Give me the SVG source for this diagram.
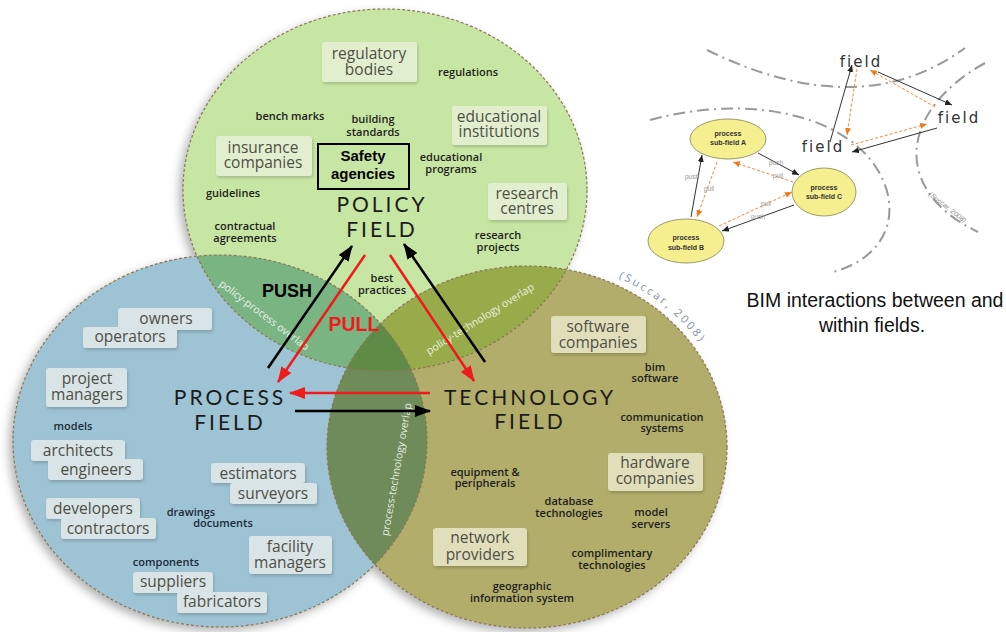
<svg xmlns="http://www.w3.org/2000/svg" width="1006" height="632" viewBox="0 0 1006 632">
<defs>
<style>
.lbl{font-family:"Open Sans","Noto Sans",sans-serif;font-weight:600;font-size:11px;fill:#1e1e1e;text-anchor:middle}
.blbl{font-family:"Open Sans","Noto Sans",sans-serif;font-size:15.5px;fill:#4e4f45;text-anchor:middle}
.ttl{font-family:Lato,"Open Sans",sans-serif;font-size:21px;letter-spacing:3px;fill:#1b1b1b;text-anchor:middle}
.ovl{font-family:"Open Sans","Noto Sans",sans-serif;font-size:10.5px;fill:#ffffff;fill-opacity:0.85;text-anchor:middle}
.bxP{fill:#e2efcf}
.bxR{fill:#d8e4e5}
.bxT{fill:#e1dfbb}
.edge{fill:none;stroke:#8a7755;stroke-width:1.2;stroke-dasharray:3 2}
.arrR{stroke:#ee1c1c;stroke-width:2.5;fill:none}
.arrK{stroke:#000;stroke-width:2.5;fill:none}
.sk{stroke:#333;stroke-width:1;fill:none}
.so{stroke:#f08a3c;stroke-width:1;stroke-dasharray:3 2;fill:none}
.arc{fill:none;stroke:#999;stroke-width:2;stroke-dasharray:12 5 2 5}
.fld{font-family:"DejaVu Sans",sans-serif;font-size:15px;letter-spacing:2px;fill:#333;text-anchor:middle}
.sf{font-family:"Liberation Sans",Arial,sans-serif;font-weight:bold;font-size:7px;fill:#333;text-anchor:middle}
.pp{font-family:"Liberation Sans",Arial,sans-serif;font-size:6.5px;fill:#999;text-anchor:middle}
</style>
<filter id="sh" x="-20%" y="-20%" width="140%" height="140%"><feDropShadow dx="-4" dy="4" stdDeviation="5" flood-color="#000" flood-opacity="0.3"/></filter>
<filter id="bsh" x="-20%" y="-30%" width="140%" height="160%"><feDropShadow dx="1" dy="2" stdDeviation="1.5" flood-color="#000" flood-opacity="0.18"/></filter>
<clipPath id="cPol"><ellipse cx="385" cy="190" rx="202" ry="181"/></clipPath>
<clipPath id="cPro"><ellipse cx="220" cy="441" rx="207" ry="186"/></clipPath>
<marker id="mR" viewBox="0 0 16 12" markerWidth="16" markerHeight="12" refX="15" refY="6" orient="auto" markerUnits="userSpaceOnUse"><path d="M0,0 L16,6 L0,12 z" fill="#ee1c1c"/></marker>
<marker id="mK" viewBox="0 0 16 12" markerWidth="16" markerHeight="12" refX="15" refY="6" orient="auto" markerUnits="userSpaceOnUse"><path d="M0,0 L16,6 L0,12 z" fill="#000"/></marker>
<marker id="sK" viewBox="0 0 7 6" markerWidth="7" markerHeight="6" refX="7" refY="3" orient="auto" markerUnits="userSpaceOnUse"><path d="M0,0 L7,3 L0,6 z" fill="#222"/></marker>
<marker id="sO" viewBox="0 0 7 6" markerWidth="7" markerHeight="6" refX="7" refY="3" orient="auto" markerUnits="userSpaceOnUse"><path d="M0,0 L7,3 L0,6 z" fill="#f07a20"/></marker>
<path id="succ" d="M598,270 A207 188 0 0 1 722,383"/>
</defs>
<rect width="1006" height="632" fill="#ffffff"/>

<g id="venn">
<g filter="url(#sh)">
<ellipse cx="220" cy="441" rx="207" ry="186" fill="#9dc3d4"/>
<ellipse cx="527" cy="447" rx="200" ry="181" fill="#b2ad6a"/>
<ellipse cx="385" cy="190" rx="202" ry="181" fill="#c8e6a3"/>
</g>
<ellipse cx="220" cy="441" rx="207" ry="186" fill="#7ab482" clip-path="url(#cPol)"/>
<ellipse cx="527" cy="447" rx="200" ry="181" fill="#98ab4b" clip-path="url(#cPol)"/>
<ellipse cx="527" cy="447" rx="200" ry="181" fill="#6e8b59" clip-path="url(#cPro)"/>
<g clip-path="url(#cPol)"><ellipse cx="527" cy="447" rx="200" ry="181" fill="#5f8b46" clip-path="url(#cPro)"/></g>
<ellipse class="edge" cx="220" cy="441" rx="207" ry="186"/>
<ellipse class="edge" cx="527" cy="447" rx="200" ry="181"/>
<ellipse class="edge" cx="385" cy="190" rx="202" ry="181"/>
<text class="ovl" transform="translate(262,318) rotate(37)">policy-process overlap</text>
<text class="ovl" transform="translate(482,322) rotate(-32)">policy-technology overlap</text>
<text class="ovl" transform="translate(400,470) rotate(-80)">process-technology overlap</text>
<text font-family="'Open Sans','Noto Sans',sans-serif" font-size="11" letter-spacing="2.5" fill="#7d90a6"><textPath href="#succ" startOffset="22">(Succar, 2008)</textPath></text>
</g>

<g id="policy-field">
<g filter="url(#bsh)">
<rect class="bxP" x="322" y="42" width="95" height="40" rx="3"/>
<rect class="bxP" x="452" y="106" width="95" height="39" rx="3"/>
<rect class="bxP" x="216" y="136" width="96" height="40" rx="3"/>
<rect class="bxP" x="488" y="183" width="79" height="37" rx="3"/>
</g>
<text class="blbl" x="369" y="59">regulatory<tspan x="369" dy="16">bodies</tspan></text>
<text class="blbl" x="499" y="122">educational<tspan x="499" dy="15">institutions</tspan></text>
<text class="blbl" x="263" y="153">insurance<tspan x="263" dy="15">companies</tspan></text>
<text class="blbl" x="527" y="199">research<tspan x="527" dy="15">centres</tspan></text>
<text class="lbl" x="468" y="76">regulations</text>
<text class="lbl" x="290" y="120">bench marks</text>
<text class="lbl" x="373" y="123">building<tspan x="373" dy="13">standards</tspan></text>
<text class="lbl" x="451" y="161">educational<tspan x="451" dy="12">programs</tspan></text>
<text class="lbl" x="233" y="197">guidelines</text>
<text class="lbl" x="245" y="230">contractual<tspan x="245" dy="12">agreements</tspan></text>
<text class="lbl" x="498" y="239">research<tspan x="498" dy="12">projects</tspan></text>
<text class="lbl" x="382" y="282">best<tspan x="382" dy="12">practices</tspan></text>
<text class="ttl" x="382" y="212">POLICY<tspan x="382" dy="25">FIELD</tspan></text>
</g>

<g id="safety-agencies">
<rect x="318" y="144" width="91" height="45" fill="none" stroke="#000" stroke-width="2"/>
<text x="363" y="161" font-family="'Liberation Sans',Arial,sans-serif" font-weight="bold" font-size="15" text-anchor="middle" fill="#000">Safety<tspan x="363" dy="18">agencies</tspan></text>
</g>

<g id="process-field">
<g filter="url(#bsh)">
<rect class="bxR" x="118" y="308" width="94" height="22" rx="3"/>
<rect class="bxR" x="83" y="327" width="94" height="21" rx="3"/>
<rect class="bxR" x="46" y="368" width="81" height="39" rx="3"/>
<rect class="bxR" x="31" y="440" width="94" height="21" rx="3"/>
<rect class="bxR" x="48" y="459" width="95" height="21" rx="3"/>
<rect class="bxR" x="211" y="463" width="94" height="20" rx="3"/>
<rect class="bxR" x="230" y="483" width="87" height="21" rx="3"/>
<rect class="bxR" x="46" y="498" width="94" height="21" rx="3"/>
<rect class="bxR" x="61" y="518" width="95" height="21" rx="3"/>
<rect class="bxR" x="249" y="536" width="83" height="38" rx="3"/>
<rect class="bxR" x="133" y="572" width="80" height="21" rx="3"/>
<rect class="bxR" x="177" y="592" width="90" height="21" rx="3"/>
</g>
<text class="blbl" x="166" y="324">owners</text>
<text class="blbl" x="130" y="342">operators</text>
<text class="blbl" x="87" y="384">project<tspan x="87" dy="16">managers</tspan></text>
<text class="blbl" x="78" y="456">architects</text>
<text class="blbl" x="96" y="475">engineers</text>
<text class="blbl" x="258" y="479">estimators</text>
<text class="blbl" x="273" y="499">surveyors</text>
<text class="blbl" x="93" y="514">developers</text>
<text class="blbl" x="108" y="534">contractors</text>
<text class="blbl" x="290" y="552">facility<tspan x="290" dy="16">managers</tspan></text>
<text class="blbl" x="173" y="587">suppliers</text>
<text class="blbl" x="222" y="607">fabricators</text>
<text class="lbl" x="73" y="430" style="fill:#1c2a3a">models</text>
<text class="lbl" x="191" y="516" style="fill:#1c2a3a">drawings<tspan x="223" dy="11">documents</tspan></text>
<text class="lbl" x="166" y="566" style="fill:#1c2a3a">components</text>
<text class="ttl" x="230" y="405">PROCESS<tspan x="230" dy="25">FIELD</tspan></text>
</g>

<g id="technology-field">
<g filter="url(#bsh)">
<rect class="bxT" x="551" y="316" width="95" height="37" rx="3"/>
<rect class="bxT" x="608" y="453" width="95" height="38" rx="3"/>
<rect class="bxT" x="433" y="528" width="94" height="38" rx="3"/>
</g>
<text class="blbl" x="598" y="332">software<tspan x="598" dy="16">companies</tspan></text>
<text class="blbl" x="655" y="468">hardware<tspan x="655" dy="16">companies</tspan></text>
<text class="blbl" x="480" y="543">network<tspan x="480" dy="17">providers</tspan></text>
<text class="lbl" x="655" y="371">bim<tspan x="655" dy="11">software</tspan></text>
<text class="lbl" x="662" y="421">communication<tspan x="662" dy="11">systems</tspan></text>
<text class="lbl" x="485" y="476">equipment &amp;<tspan x="485" dy="11">peripherals</tspan></text>
<text class="lbl" x="569" y="505">database<tspan x="569" dy="12">technologies</tspan></text>
<text class="lbl" x="651" y="516">model<tspan x="651" dy="12">servers</tspan></text>
<text class="lbl" x="612" y="557">complimentary<tspan x="612" dy="12">technologies</tspan></text>
<text class="lbl" x="522" y="590">geographic<tspan x="522" dy="12">information system</tspan></text>
<text class="ttl" x="530" y="405">TECHNOLOGY<tspan x="530" dy="24">FIELD</tspan></text>
</g>

<g id="connectors">
<line class="arrK" x1="268" y1="368" x2="352" y2="246" marker-end="url(#mK)"/>
<line class="arrR" x1="365" y1="255" x2="278" y2="382" marker-end="url(#mR)"/>
<line class="arrR" x1="390" y1="255" x2="474" y2="381" marker-end="url(#mR)"/>
<line class="arrK" x1="485" y1="362" x2="404" y2="244" marker-end="url(#mK)"/>
<line class="arrR" x1="430" y1="393" x2="290" y2="393" marker-end="url(#mR)"/>
<line class="arrK" x1="295" y1="411" x2="430" y2="411" marker-end="url(#mK)"/>
</g>
<text x="287" y="297" font-family="'Liberation Sans',Arial,sans-serif" font-weight="bold" font-size="18" text-anchor="middle" fill="#000">PUSH</text>
<text x="354" y="331" font-family="'Liberation Sans',Arial,sans-serif" font-weight="bold" font-size="19.5" text-anchor="middle" fill="#ee1c1c">PULL</text>

<g id="bim-interactions">
<path class="arc" d="M707,50 Q860,125 965,48"/>
<path class="arc" d="M650,120 C760,90 870,120 888,195 C896,235 870,262 833,272"/>
<path class="arc" d="M985,63 C900,110 890,190 978,232"/>
<text transform="translate(946,209) rotate(38)" font-family="'Liberation Sans',Arial,sans-serif" font-style="italic" font-size="7" fill="#888" text-anchor="middle">(Succar, 2008)</text>
<g id="field-top"><text class="fld" x="861" y="67">field</text></g>
<g id="field-right"><text class="fld" x="959" y="123">field</text></g>
<g id="field-left"><text class="fld" x="823" y="152">field</text></g>
<g id="subfield-A"><ellipse cx="728" cy="139" rx="38" ry="20" fill="#f6ef8f" stroke="#9a9a6a"/><text class="sf" x="728" y="136">process<tspan x="728" dy="9">sub-field A</tspan></text></g>
<g id="subfield-B"><ellipse cx="686" cy="241" rx="38" ry="22" fill="#f6ef8f" stroke="#9a9a6a"/><text class="sf" x="686" y="240">process<tspan x="686" dy="10">sub-field B</tspan></text></g>
<g id="subfield-C"><ellipse cx="824" cy="192" rx="32" ry="24" fill="#f6ef8f" stroke="#9a9a6a"/><text class="sf" x="824" y="190">process<tspan x="824" dy="9">sub-field C</tspan></text></g>
<g id="small-connectors">
<line class="sk" x1="830" y1="142" x2="852" y2="65" marker-end="url(#sK)"/>
<line class="so" x1="857" y1="69" x2="847" y2="135" marker-end="url(#sO)"/>
<line class="so" x1="935" y1="107" x2="870" y2="70" marker-end="url(#sO)"/>
<line class="sk" x1="878" y1="72" x2="952" y2="105" marker-end="url(#sK)"/>
<line class="so" x1="851" y1="145" x2="927" y2="124" marker-end="url(#sO)"/>
<line class="sk" x1="937" y1="128" x2="852" y2="152" marker-end="url(#sK)"/>
<line class="sk" x1="758" y1="153" x2="799" y2="175" marker-end="url(#sK)"/>
<line class="so" x1="793" y1="182" x2="733" y2="162" marker-end="url(#sO)"/>
<line class="sk" x1="691" y1="217" x2="702" y2="155" marker-end="url(#sK)"/>
<line class="so" x1="717" y1="162" x2="697" y2="217" marker-end="url(#sO)"/>
<line class="so" x1="719" y1="226" x2="792" y2="192" marker-end="url(#sO)"/>
<line class="sk" x1="794" y1="205" x2="722" y2="231" marker-end="url(#sK)"/>
</g>
<text class="pp" x="776" y="165">push</text>
<text class="pp" x="778" y="178">pull</text>
<text class="pp" x="692" y="179">push</text>
<text class="pp" x="709" y="191">pull</text>
<text class="pp" x="766" y="206">pull</text>
<text class="pp" x="758" y="219">push</text>
<text x="875" y="307" font-family="'Liberation Sans',Arial,sans-serif" font-size="19.5" text-anchor="middle" fill="#111">BIM interactions between and<tspan x="872" dy="25">within fields.</tspan></text>
</g>
</svg>
